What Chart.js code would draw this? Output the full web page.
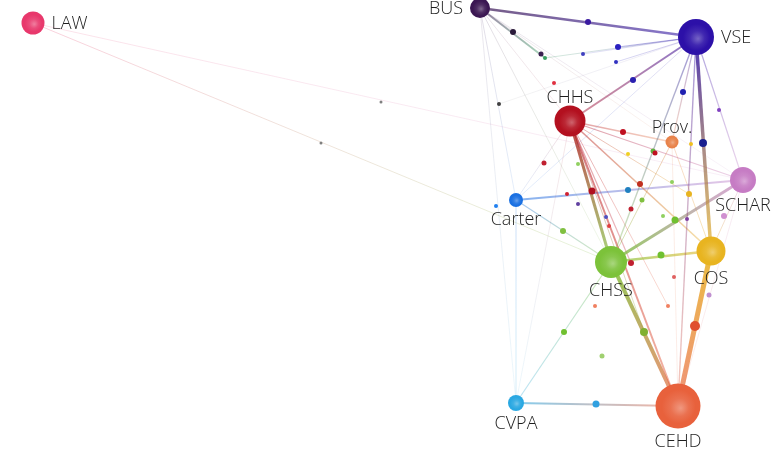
<!DOCTYPE html>
<html lang="en">
<head>
  <meta charset="UTF-8" />
  <title>College Collaboration Network</title>
  <script src="https://cdn.jsdelivr.net/npm/chart.js"></script>
  <style>
    html, body { margin: 0; padding: 0; background: #fff; }
    #wrap { width: 773px; height: 462px; position: relative; }
  </style>
</head>
<body>
<div id="wrap"><canvas id="net"></canvas></div>
<script>
  // main units: name, position (layout coords), size
  const nodeNames = ['LAW', 'BUS', 'VSE', 'CHHS', 'Prov.', 'SCHAR', 'Carter', 'CHSS', 'COS', 'CVPA', 'CEHD'];
  const nodeX = [33, 480, 696, 570, 672, 743, 516, 611, 711, 516, 678];
  const nodeY = [23, 8, 37, 121, 142, 180, 200, 262, 251, 403, 406];
  const nodeSize = [11.5, 10, 18, 15.5, 6.5, 13, 7, 16, 14.5, 8, 22.5];

  // small units (unlabelled dots)
  const dotX = [588, 513, 541, 545, 618, 583, 616, 633, 554, 499, 683, 719, 623, 703, 691, 653, 655, 628, 544, 578,
                592, 567, 628, 640, 672, 689, 642, 631, 578, 606, 663, 675, 687, 609, 563, 661, 631, 674, 724, 709,
                496, 595, 668, 564, 644, 695, 602, 596, 381, 321];
  const dotY = [22, 32, 54, 58, 47, 54, 62, 80, 83, 104, 92, 110, 132, 143, 144, 151, 153, 154, 163, 164,
                191, 194, 190, 184, 182, 194, 200, 209, 204, 217, 216, 220, 219, 226, 231, 255, 263, 277, 216, 295,
                206, 306, 306, 332, 332, 326, 356, 404, 102, 143];
  const dotSize = [3, 3, 2.5, 2, 3, 2, 2, 3, 2, 2, 3, 2, 3, 4, 2, 2.5, 2.5, 2, 2.5, 2,
                   3.5, 2, 3, 3, 2, 3, 2.5, 2.5, 2, 2, 2, 3.5, 2, 2, 3, 3.5, 3, 2, 3, 2.5,
                   2, 2, 2, 3, 4, 5, 2.5, 3.5, 1.5, 1.5];

  // links: from, to, strength
  const edgeFrom = ['BUS', 'BUS', 'BUS', 'BUS', 'BUS', 'BUS', 'BUS', 'VSE', 'VSE', 'VSE', 'VSE', 'VSE', 'VSE', 'VSE',
                    'CHHS', 'CHHS', 'CHHS', 'CHHS', 'CHHS', 'CHHS', 'CHHS', 'Carter', 'Carter', 'Carter',
                    'CHSS', 'CHSS', 'CHSS', 'CHSS', 'CHSS', 'COS', 'COS', 'COS', 'CVPA', 'LAW', 'LAW',
                    'SCHAR', 'Prov.', 'BUS', 'd3', 'VSE', 'VSE',
                    'CHHS', 'CHHS', 'CHHS', 'VSE', 'VSE', 'Prov.', 'CHHS'];
  const edgeTo = ['VSE', 'Carter', 'CHSS', 'CVPA', 'CHHS', 'SCHAR', 'Prov.', 'CHHS', 'COS', 'CHSS', 'CEHD', 'SCHAR', 'Prov.', 'Carter',
                  'CHSS', 'CEHD', 'COS', 'SCHAR', 'Prov.', 'Carter', 'CVPA', 'SCHAR', 'CHSS', 'CVPA',
                  'SCHAR', 'COS', 'CEHD', 'CVPA', 'Prov.', 'CEHD', 'SCHAR', 'Prov.', 'CEHD', 'CHSS', 'SCHAR',
                  'CEHD', 'CEHD', 'd3', 'VSE', 'd5', 'd9',
                  'd36', 'd42', 'd44', 'd4', 'd6', 'CHSS', 'd25'];
  const edgeWeight = [2.5, 0.6, 0.6, 0.5, 0.5, 0.5, 0.5, 2, 3.5, 1.4, 1.4, 1.2, 1.2, 0.6,
                      3, 2, 1.6, 1.3, 1.3, 0.6, 0.5, 1.8, 1.2, 0.4,
                      3, 2.5, 4, 1.2, 0.8, 5, 1, 1, 2, 0.8, 0.6,
                      0.6, 0.6, 1.8, 0.8, 0.7, 0.4,
                      1.2, 1, 1, 1.2, 0.8, 0.8, 1];

  // styles
  const nodeColors = ['#e8386c', '#3b1752', '#2c10a8', '#b3101f', '#e8824a', '#c67cc4', '#1a70e2', '#7cc23a', '#e8b420', '#2aa8e2', '#e8613c'];
  const labelSide = ['right', 'left', 'right', 'above', 'above', 'below', 'below', 'below', 'below', 'below', 'below'];
  const dotColors = ['#3a1aa0', '#2a1a3a', '#3a2050', '#3aa060', '#2a20c0', '#4040c0', '#3030c0', '#2a20b0', '#e03040', '#404040',
                     '#2020b0', '#8040c0', '#c01020', '#1a2090', '#f0c020', '#60b040', '#c01020', '#f0d020', '#c02030', '#90d060',
                     '#b01020', '#d02030', '#2080c0', '#c03020', '#90d060', '#e8b420', '#80c040', '#c02030', '#6040a0', '#5050c0',
                     '#90d060', '#70c030', '#8040a0', '#e04040', '#80c040', '#70c030', '#c02030', '#e06060', '#d090d0', '#c090d0',
                     '#2080f0', '#f08060', '#f08060', '#70c030', '#80b030', '#e05030', '#a0d070', '#30a0e0', '#808080', '#808080'];

  function rgba(hex, a) {
    const n = parseInt(hex.slice(1), 16);
    return `rgba(${n >> 16},${(n >> 8) & 255},${n & 255},${a})`;
  }
  function lighten(hex, t) {
    const n = parseInt(hex.slice(1), 16);
    const c = [n >> 16, (n >> 8) & 255, n & 255].map(v => Math.round(v + (255 - v) * t));
    return `rgb(${c[0]},${c[1]},${c[2]})`;
  }
  function lookup(id) {
    if (/^d\d+$/.test(id)) {
      const k = parseInt(id.slice(1));
      return { x: dotX[k], y: dotY[k], color: dotColors[k] };
    }
    const i = nodeNames.indexOf(id);
    return { x: nodeX[i], y: nodeY[i], color: nodeColors[i] };
  }
  function toPx(chart, vx, vy) {
    const { x: xs, y: ys } = chart.scales;
    if (!xs || !ys) return null;
    const px = xs.getPixelForValue(vx), py = ys.getPixelForValue(vy);
    return isFinite(px) && isFinite(py) ? [px, py] : null;
  }

  const datasets = [];

  datasets.push({
    type: 'scatter',
    order: 0,
    data: nodeNames.map((n, i) => ({ x: nodeX[i], y: nodeY[i] })),
    pointRadius: nodeSize,
    pointHoverRadius: nodeSize,
    borderWidth: 0,
    clip: false,
    backgroundColor(ctx) {
      const i = ctx.dataIndex;
      if (i === undefined) return nodeColors[0];
      const base = nodeColors[i];
      const p = toPx(ctx.chart, nodeX[i], nodeY[i]);
      if (!p) return base;
      const r = nodeSize[i];
      const g = ctx.chart.ctx.createRadialGradient(p[0] + r * 0.12, p[1] + r * 0.1, 0, p[0], p[1], r);
      g.addColorStop(0, lighten(base, 0.35));
      g.addColorStop(0.4, lighten(base, 0.1));
      g.addColorStop(0.75, base);
      g.addColorStop(1, base);
      return g;
    }
  });

  datasets.push({
    type: 'scatter',
    order: 1,
    data: dotX.map((x, i) => ({ x, y: dotY[i] })),
    pointRadius: dotSize,
    pointHoverRadius: dotSize,
    borderWidth: 0,
    clip: false,
    backgroundColor: dotColors
  });

  edgeFrom.forEach((f, i) => {
    const a = lookup(f), b = lookup(edgeTo[i]);
    const w = edgeWeight[i];
    const alpha = Math.min(0.85, 0.1 + w * 0.24);
    datasets.push({
      type: 'line',
      order: 2,
      data: [{ x: a.x, y: a.y }, { x: b.x, y: b.y }],
      borderWidth: w,
      pointRadius: 0,
      tension: 0,
      clip: false,
      borderColor(ctx) {
        const p0 = toPx(ctx.chart, a.x, a.y), p1 = toPx(ctx.chart, b.x, b.y);
        if (!p0 || !p1) return rgba(a.color, alpha);
        const g = ctx.chart.ctx.createLinearGradient(p0[0], p0[1], p1[0], p1[1]);
        g.addColorStop(0, rgba(a.color, alpha));
        g.addColorStop(1, rgba(b.color, alpha * 0.8));
        return g;
      }
    });
  });

  const nodeLabels = {
    id: 'nodeLabels',
    afterDatasetsDraw(chart) {
      const { ctx, scales: { x, y } } = chart;
      ctx.save();
      ctx.font = '300 18px "Open Sans", sans-serif';
      ctx.fillStyle = '#1e1e1e';
      nodeNames.forEach((n, i) => {
        const px = x.getPixelForValue(nodeX[i]), py = y.getPixelForValue(nodeY[i]);
        const r = nodeSize[i];
        const side = labelSide[i];
        ctx.textBaseline = 'middle';
        if (side === 'right') {
          ctx.textAlign = 'left';
          ctx.fillText(n, px + r + 7, py + 1);
        } else if (side === 'left') {
          ctx.textAlign = 'right';
          ctx.fillText(n, px - r - 7, py + 1);
        } else if (side === 'above') {
          ctx.textAlign = 'center';
          ctx.fillText(n, px, py - r - 8);
        } else {
          ctx.textAlign = 'center';
          ctx.fillText(n, px, py + r + 13);
        }
      });
      ctx.restore();
    }
  };

  new Chart(document.getElementById('net'), {
    data: { datasets },
    options: {
      responsive: true,
      maintainAspectRatio: false,
      animation: false,
      layout: { padding: 0, autoPadding: false },
      plugins: { legend: { display: false }, tooltip: { enabled: false } },
      scales: {
        x: { type: 'linear', min: 0, max: 773, display: false },
        y: { type: 'linear', min: 0, max: 462, reverse: true, display: false }
      }
    },
    plugins: [nodeLabels]
  });
</script>
</body>
</html>
